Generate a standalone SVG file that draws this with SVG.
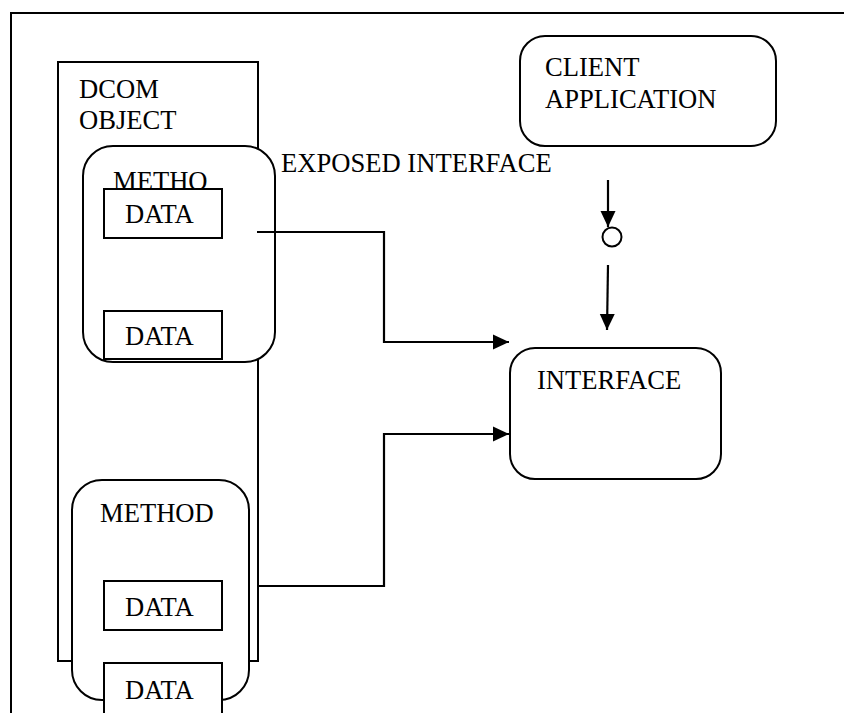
<svg xmlns="http://www.w3.org/2000/svg" width="844" height="713" viewBox="0 0 844 713">
  <style>
    .box { fill: #fff; stroke: #000; stroke-width: 2; }
    .lbl { font-family: "Liberation Serif", "Times New Roman", serif; font-size: 26.6px; fill: #000; }
    .wire { fill: none; stroke: #000; stroke-width: 2.2; }
  </style>
  <defs>
    <marker id="arrow" markerWidth="16" markerHeight="16" refX="16" refY="8" orient="auto" markerUnits="userSpaceOnUse">
      <path d="M0,0.5 L16,8 L0,15.5 Z" fill="#000"/>
    </marker>
  </defs>
  <rect width="844" height="713" fill="#fff"/>

  <!-- page frame: top and left edges only -->
  <path d="M11,713 L11,13 L844,13" fill="none" stroke="#000" stroke-width="2"/>

  <g id="dcom-object">
    <rect class="box" x="58" y="62" width="200" height="599"/>
    <text class="lbl" x="79" y="98">DCOM</text>
    <text class="lbl" x="79" y="129">OBJECT</text>
  </g>

  <g id="method-upper">
    <rect class="box" x="83" y="146" width="192" height="216" rx="30" ry="30"/>
    <text class="lbl" x="113" y="190">METHO</text>
  </g>
  <g id="data-1">
    <rect class="box" x="104" y="189" width="118" height="49"/>
    <text class="lbl" x="125" y="223">DATA</text>
  </g>
  <g id="data-2">
    <rect class="box" x="104" y="311" width="118" height="48"/>
    <text class="lbl" x="125" y="345">DATA</text>
  </g>

  <g id="method-lower">
    <rect class="box" x="72" y="480" width="177" height="220" rx="30" ry="30"/>
    <text class="lbl" x="100" y="522">METHOD</text>
  </g>
  <g id="data-3">
    <rect class="box" x="104" y="581" width="118" height="49"/>
    <text class="lbl" x="125" y="616">DATA</text>
  </g>
  <g id="data-4">
    <rect class="box" x="104" y="663" width="118" height="70"/>
    <text class="lbl" x="125" y="699">DATA</text>
  </g>

  <g id="exposed-interface-label">
    <text class="lbl" x="281" y="172">EXPOSED INTERFACE</text>
  </g>

  <g id="client-application">
    <rect class="box" x="520" y="36" width="256" height="110" rx="25" ry="25"/>
    <text class="lbl" x="545" y="76">CLIENT</text>
    <text class="lbl" x="545" y="108">APPLICATION</text>
  </g>

  <g id="interface">
    <rect class="box" x="510" y="348" width="211" height="131" rx="25" ry="25"/>
    <text class="lbl" x="537" y="389">INTERFACE</text>
  </g>

  <g id="port">
    <circle cx="612" cy="237" r="9.5" fill="#fff" stroke="#000" stroke-width="2"/>
  </g>

  <g id="connectors">
    <path class="wire" d="M257,232 L384,232 L384,342 L509,342" marker-end="url(#arrow)"/>
    <path class="wire" d="M258,586 L384,586 L384,434 L509,434" marker-end="url(#arrow)"/>
    <path class="wire" d="M608,180 L608,227" marker-end="url(#arrow)"/>
    <path class="wire" d="M608,265 L607,330" marker-end="url(#arrow)"/>
  </g>
</svg>
